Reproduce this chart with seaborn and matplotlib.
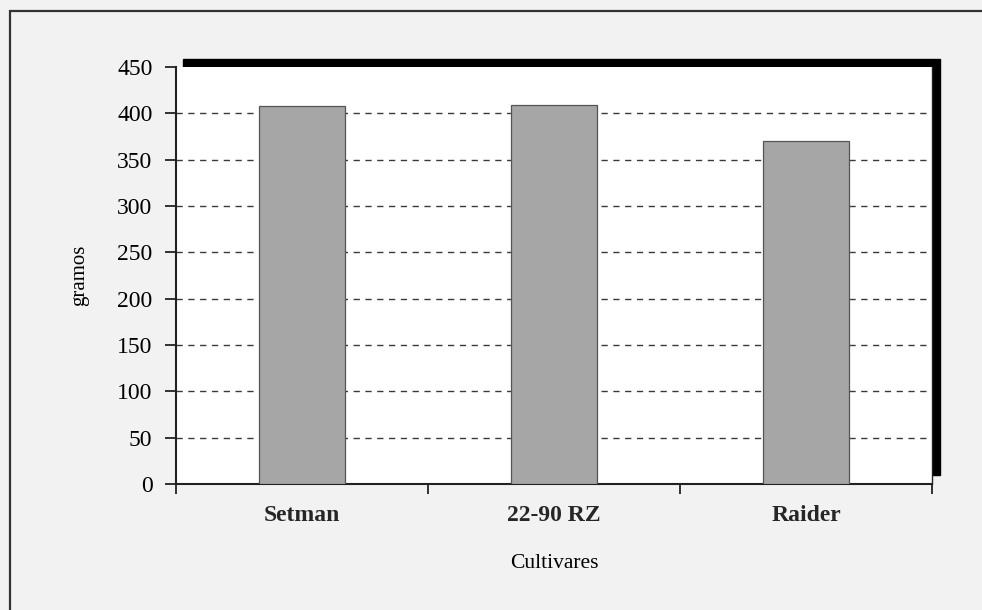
import matplotlib
matplotlib.use("Agg")
import matplotlib.pyplot as plt
import seaborn as sns
import pandas as pd
from matplotlib.patches import Rectangle

categories = ["Setman", "22-90 RZ", "Raider"]
values = [408, 409, 370]
y_ticks = [0, 50, 100, 150, 200, 250, 300, 350, 400, 450]

sns.set_theme(style="white")
plt.rcParams['font.family'] = ['Liberation Serif', 'DejaVu Serif']

W, H = 982, 610
fig = plt.figure(figsize=(W / 100, H / 100), dpi=100, facecolor="#f2f2f2")

# outer frame
fig.patches.append(Rectangle((10 / W, -0.1), 1.2, (H - 11) / H + 0.1, transform=fig.transFigure,
                             fill=False, edgecolor="#333333", linewidth=1.6, zorder=0))
# shadow behind plot area
fig.patches.append(Rectangle((183 / W, (H - 475) / H), 757 / W, 416 / H, transform=fig.transFigure,
                             facecolor="black", edgecolor="black", zorder=1))

ax = fig.add_axes([176 / W, (H - 484) / H, 756 / W, 417 / H])
ax.set_zorder(2)
ax.set_facecolor("white")

df = pd.DataFrame({"cat": categories, "val": values})
sns.barplot(data=df, x="cat", y="val", order=categories, width=0.34, color="#a6a6a6",
            edgecolor="#555555", linewidth=0.9, saturation=1, ax=ax, zorder=3)

ax.set_ylim(0, 450)
ax.set_xlim(-0.5, len(categories) - 0.5)
ax.set_yticks(y_ticks)
ax.set_yticklabels([str(v) for v in y_ticks], fontsize=17)
for v in y_ticks[1:-1]:
    ax.axhline(v, color="#3a3a3a", linestyle=(0, (4.5, 4)), linewidth=1.0, zorder=1)

ax.set_xticks([i - 0.5 for i in range(len(categories) + 1)])
ax.set_xticklabels([])
ax.set_xticks(range(len(categories)), minor=True)
ax.set_xticklabels(categories, minor=True, fontsize=17, fontweight="bold")
ax.tick_params(axis="x", which="minor", bottom=False, length=0, pad=15)
ax.tick_params(axis="x", which="major", bottom=True, length=7, width=1.3, color="#222222", direction="out")
ax.tick_params(axis="y", left=True, length=8, width=1.3, color="#222222", direction="out", pad=9)
ax.tick_params(labelcolor="black")

ax.set_xlabel("Cultivares", fontsize=15.5, labelpad=20, color="black")
ax.set_ylabel("gramos", fontsize=15, labelpad=20, color="black")

for s in ["left", "bottom"]:
    ax.spines[s].set_color("#222222")
    ax.spines[s].set_linewidth(1.5)
ax.spines["right"].set_color("#222222")
ax.spines["right"].set_linewidth(1.0)
ax.spines["top"].set_visible(False)

fig.savefig("out.png", dpi=100, facecolor=fig.get_facecolor())
